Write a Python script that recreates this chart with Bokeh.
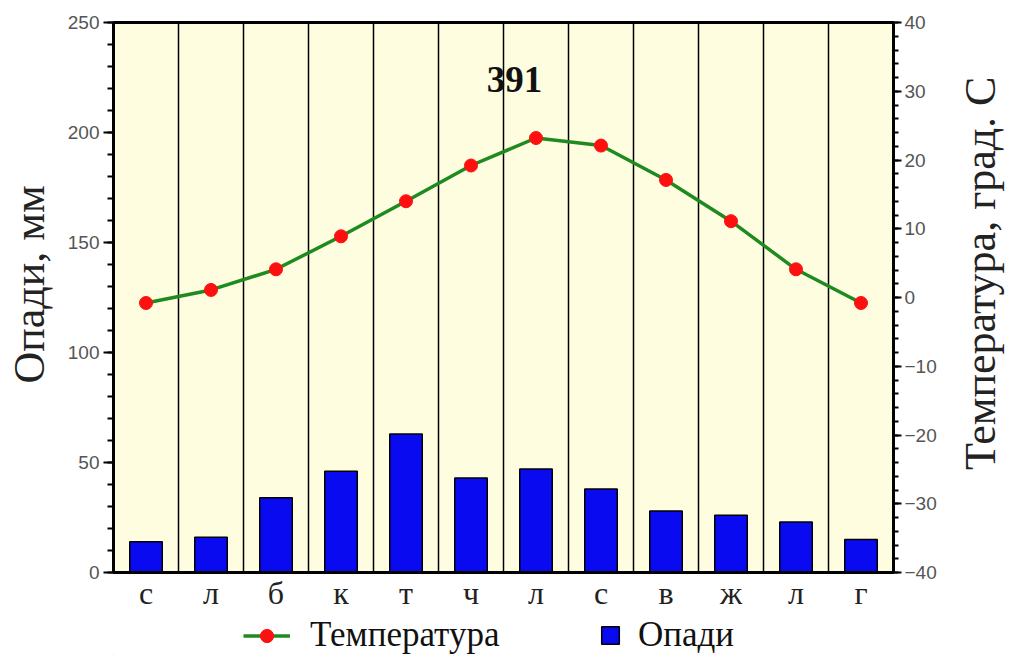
import math
from bokeh.plotting import figure
from bokeh.layouts import column
from bokeh.models import (Range1d, LinearAxis, SingleIntervalTicker, FixedTicker,
                          Legend, LegendItem, Label, ColumnDataSource)
from bokeh.embed import file_html
from bokeh.resources import INLINE

months = ["с", "л", "б", "к", "т", "ч", "л", "с", "в", "ж", "л", "г"]
precip = [14, 16, 34, 46, 63, 43, 47, 38, 28, 26, 23, 15]
temp = [-0.8, 1.1, 4.1, 8.9, 14.0, 19.2, 23.2, 22.1, 17.1, 11.1, 4.1, -0.8]
total_label = "391"
left_title = "Опади, мм"
right_title = "Температура, град. С"
temp_name = "Температура"
precip_name = "Опади"

xs = [i + 0.5 for i in range(len(months))]
src = ColumnDataSource(dict(x=xs, p=precip, t=temp))

SERIF = "Liberation Serif"
SANS = "Liberation Sans"
BG = "#fefde0"
BLUE = "#0a0af0"
GREEN = "#1f8a1f"
RED = "#ff1010"

W = 1008
H1 = 613
p = figure(width=W, height=H1, x_range=Range1d(0, 12), y_range=Range1d(0, 250),
           output_backend="svg", toolbar_location=None,
           min_border_left=113, min_border_right=W - 893, min_border_top=22,
           min_border_bottom=H1 - 573,
           background_fill_color=BG, border_fill_color="white")
p.outline_line_color = "black"
p.outline_line_width = 3

p.extra_y_ranges = {"temp": Range1d(-40, 40)}

p.ygrid.visible = False
p.xgrid.ticker = FixedTicker(ticks=list(range(1, 12)))
p.xgrid.grid_line_color = "black"
p.xgrid.grid_line_width = 1.5

bars = p.vbar(x="x", top="p", width=0.5, bottom=0, source=src,
              fill_color=BLUE, line_color="black", line_width=1.5)
ln = p.line(x="x", y="t", source=src, y_range_name="temp", line_color=GREEN, line_width=3.5)
sc = p.scatter(x="x", y="t", source=src, y_range_name="temp", size=13,
               fill_color=RED, line_color=RED)


def style_y(ax):
    ax.axis_line_width = 3
    ax.axis_line_color = "black"
    ax.major_tick_line_width = 2
    ax.minor_tick_line_width = 2
    ax.major_tick_in = 0
    ax.minor_tick_in = 0
    ax.major_label_text_font = SANS
    ax.major_label_text_font_size = "19px"
    ax.major_label_text_color = "#555555"


la = p.yaxis[0]
la.ticker = SingleIntervalTicker(interval=50, num_minor_ticks=5)
style_y(la)
la.major_tick_out = 10
la.minor_tick_out = 6
la.major_label_standoff = 4

ra = LinearAxis(y_range_name="temp", ticker=SingleIntervalTicker(interval=10, num_minor_ticks=5))
style_y(ra)
ra.major_tick_out = 8
ra.minor_tick_out = 5
ra.major_label_standoff = 3
p.add_layout(ra, "right")

# axis titles, both reading bottom to top
title_style = dict(angle=math.pi / 2, text_font=SERIF, text_font_size="44px",
                   text_color="#222222", text_align="center", text_baseline="alphabetic")
p.add_layout(Label(x=-1.29, y=131, text=left_title, **title_style), "left")
p.add_layout(Label(x=13.34, y=136, text=right_title, **title_style), "right")

xa = p.xaxis[0]
xa.ticker = FixedTicker(ticks=xs)
xa.major_label_overrides = {x: m for x, m in zip(xs, months)}
xa.axis_line_width = 3
xa.major_tick_line_color = None
xa.minor_tick_line_color = None
xa.major_tick_out = 0
xa.major_tick_in = 0
xa.minor_tick_out = 0
xa.major_label_text_font = SERIF
xa.major_label_text_font_size = "32px"
xa.major_label_text_color = "#222222"
xa.major_label_standoff = 2

p.add_layout(Label(x=6.17, y=224, text=total_label, text_font=SERIF, text_font_style="bold",
                   text_font_size="37px", text_align="center", text_baseline="middle",
                   text_color="#111111"))

# legend strip below the chart
H2 = 655 - H1
q = figure(width=W, height=H2, x_range=Range1d(0, 1), y_range=Range1d(0, 1),
           output_backend="svg", toolbar_location=None,
           x_axis_location=None, y_axis_location=None,
           min_border=0, outline_line_color=None, background_fill_color="white",
           border_fill_color="white")
q.grid.visible = False
e = ColumnDataSource(dict(x=[-10], y=[-10], b=[-11]))
qln = q.line(x="x", y="y", source=e, line_color=GREEN, line_width=3.5)
qsc = q.scatter(x="x", y="y", source=e, size=12, fill_color=RED, line_color=RED)
qbar = q.vbar(x="x", top="y", bottom="b", width=0.5, source=e,
              fill_color=BLUE, line_color="black", line_width=1.5)

common = dict(padding=0, margin=0, border_line_color=None, background_fill_alpha=0,
              label_text_font=SERIF, label_text_font_size="35px", label_text_color="#111111",
              label_height=22)
leg1 = Legend(items=[LegendItem(label=temp_name, renderers=[qln, qsc])],
              location=(130, 0), glyph_width=47, glyph_height=33, label_standoff=20, **common)
leg2 = Legend(items=[LegendItem(label=precip_name, renderers=[qbar])],
              location=(486, 0), glyph_width=22, glyph_height=22, label_standoff=17, **common)
q.add_layout(leg1, "center")
q.add_layout(leg2, "center")

open("out.html", "w").write(file_html(column(p, q, spacing=0), INLINE))
